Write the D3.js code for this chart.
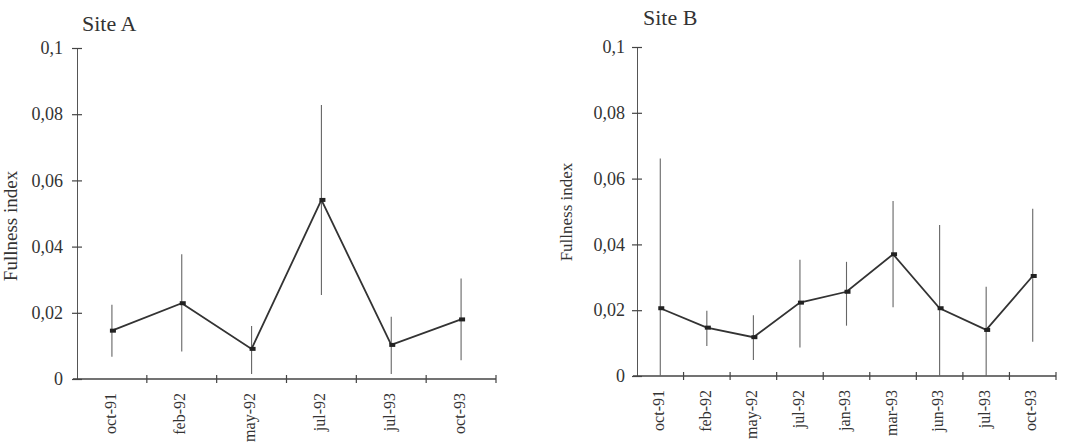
<!DOCTYPE html>
<html>
<head>
<meta charset="utf-8">
<script src="https://cdn.jsdelivr.net/npm/d3@7"></script>
<style>
  html, body { margin: 0; padding: 0; background: #fff; }
  svg { display: block; }
  text { font-family: "Liberation Serif", "DejaVu Serif", serif; fill: #333; }
</style>
</head>
<body>
<svg id="chart" width="1071" height="445"></svg>
<script>
// ---- data ----
const monthsA = ["oct-91", "feb-92", "may-92", "jul-92", "jul-93", "oct-93"];
const meanA   = [0.0146, 0.0229, 0.0091, 0.0541, 0.0103, 0.0180];
const upperA  = [0.0224, 0.0377, 0.0160, 0.0828, 0.0188, 0.0304];
const lowerA  = [0.0067, 0.0083, 0.0015, 0.0254, 0.0015, 0.0057];

const monthsB = ["oct-91", "feb-92", "may-92", "jul-92", "jan-93", "mar-93", "jun-93", "jul-93", "oct-93"];
const meanB   = [0.0206, 0.0147, 0.0118, 0.0223, 0.0256, 0.0370, 0.0206, 0.0140, 0.0304];
const upperB  = [0.0661, 0.0198, 0.0185, 0.0353, 0.0347, 0.0532, 0.0459, 0.0271, 0.0508];
const lowerB  = [0.0000, 0.0091, 0.0049, 0.0087, 0.0153, 0.0209, 0.0000, 0.0000, 0.0104];

const yTicks = [0, 0.02, 0.04, 0.06, 0.08, 0.1];
const yTickLabels = ["0", "0,02", "0,04", "0,06", "0,08", "0,1"];
const titles = ["Site A", "Site B"];
const yTitle = "Fullness index";

// ---- layout ----
const svg = d3.select("#chart");

const panels = [
  { title: titles[0], months: monthsA, mean: meanA, upper: upperA, lower: lowerA,
    x0: 77, x1: 496, yTop: 48, yBot: 379, titleX: 82, titleY: 31,
    ylabX: 13, ylabY: 226, ylabSize: 19, tickPad: 9 },
  { title: titles[1], months: monthsB, mean: meanB, upper: upperB, lower: lowerB,
    x0: 637, x1: 1056, yTop: 47, yBot: 376, titleX: 643, titleY: 25,
    ylabX: 568, ylabY: 212, ylabSize: 17, tickPad: 7 }
];

panels.forEach(p => {
  const x = d3.scaleBand().domain(p.months).range([p.x0, p.x1]).padding(0);
  const y = d3.scaleLinear().domain([0, 0.1]).range([p.yBot, p.yTop]);
  const g = svg.append("g");

  // title
  g.append("text").attr("x", p.titleX).attr("y", p.titleY)
    .style("font-size", "22px").text(p.title);

  // y axis title
  g.append("text")
    .attr("transform", `translate(${p.ylabX},${p.ylabY}) rotate(-90)`)
    .attr("text-anchor", "middle").attr("dominant-baseline", "middle")
    .style("font-size", p.ylabSize + "px").text(yTitle);

  // y axis
  const yAxis = d3.axisLeft(y).tickValues(yTicks)
    .tickFormat((d, i) => yTickLabels[i]).tickSizeInner(5).tickSizeOuter(0).tickPadding(p.tickPad);
  const ya = g.append("g").attr("transform", `translate(${p.x0},0)`).call(yAxis);
  ya.attr("font-family", null).attr("font-size", null);
  ya.select(".domain").attr("stroke", "#555");
  ya.selectAll(".tick line").attr("x1", 5).attr("x2", -5).attr("stroke", "#444").attr("stroke-width", 1.2);
  ya.selectAll(".tick text").style("font-size", "18px").style("fill", "#333");

  // x axis (labels at band centres)
  const xAxis = d3.axisBottom(x).tickSize(0).tickPadding(0);
  const xa = g.append("g").attr("transform", `translate(0,${p.yBot})`).call(xAxis);
  xa.attr("font-family", null).attr("font-size", null);
  xa.select(".domain").remove();
  xa.selectAll(".tick text")
    .style("font-size", "16px").style("fill", "#333")
    .attr("text-anchor", "end").attr("dominant-baseline", "middle")
    .attr("transform", "translate(0,14) rotate(-90)").attr("x", 0).attr("y", 0).attr("dy", null);

  // x axis line and boundary ticks
  g.append("line").attr("x1", p.x0 - 4).attr("x2", p.x1)
    .attr("y1", y(0)).attr("y2", y(0)).attr("stroke", "#444").attr("stroke-width", 1.3);
  g.selectAll(".btick").data(p.months).enter().append("line")
    .attr("x1", d => x(d) + x.bandwidth()).attr("x2", d => x(d) + x.bandwidth())
    .attr("y1", y(0) - 4).attr("y2", y(0) + 4)
    .attr("stroke", "#444").attr("stroke-width", 1.2);

  const idx = d3.range(p.months.length);
  const cx = i => x(p.months[i]) + x.bandwidth() / 2;

  // error bars
  g.selectAll(".err").data(idx).enter().append("line")
    .attr("x1", cx).attr("x2", cx)
    .attr("y1", i => y(p.upper[i])).attr("y2", i => y(p.lower[i]))
    .attr("stroke", "#666").attr("stroke-width", 1.1);

  // mean line
  const line = d3.line().x(i => cx(i)).y(i => y(p.mean[i]));
  g.append("path").datum(idx).attr("d", line)
    .attr("fill", "none").attr("stroke", "#333").attr("stroke-width", 1.8);

  // markers
  g.selectAll(".mk").data(idx).enter().append("rect")
    .attr("x", i => cx(i) - 2).attr("y", i => y(p.mean[i]) - 2)
    .attr("width", 6).attr("height", 4).attr("fill", "#222");
});
</script>
</body>
</html>
